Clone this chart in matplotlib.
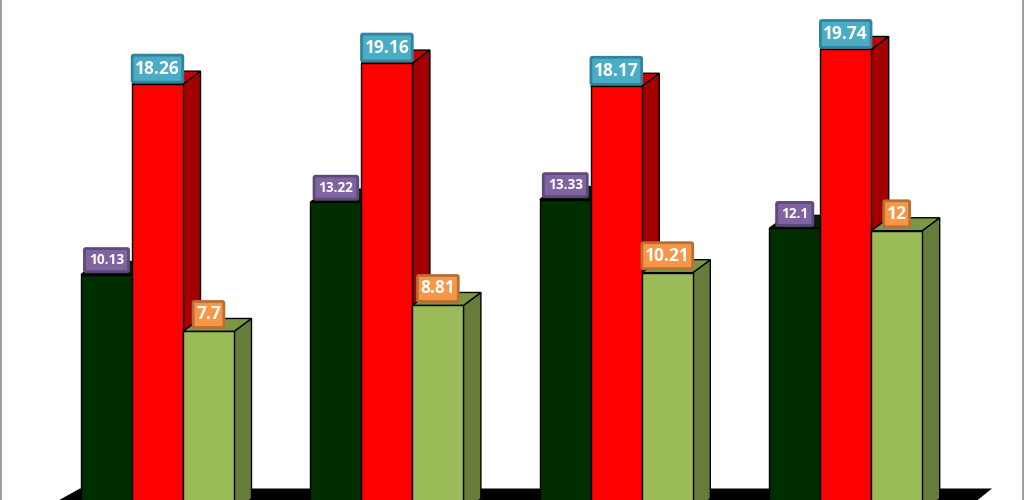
import matplotlib
matplotlib.use("Agg")
import matplotlib.pyplot as plt
from matplotlib.patches import Polygon, Rectangle, FancyBboxPatch
from matplotlib.transforms import IdentityTransform

groups = [0, 1, 2, 3]
series_a = [10.13, 13.22, 13.33, 12.1]
series_b = [18.26, 19.16, 18.17, 19.74]
series_c = [7.7, 8.81, 10.21, 12]
labels_a = ["10.13", "13.22", "13.33", "12.1"]
labels_b = ["18.26", "19.16", "18.17", "19.74"]
labels_c = ["7.7", "8.81", "10.21", "12"]

PX_X = 229.4
PX_Y = 23.42
W, H = 1024, 500
ZERO_PX = 511.8
X0_PX = 157.5
bar_w = 51 / PX_X
dx = 17.5 / PX_X
dy = 13 / PX_Y

plt.rcParams["font.family"] = ["Open Sans", "DejaVu Sans"]
fig = plt.figure(figsize=(10.24, 5.0), dpi=100, facecolor="white")
ax = fig.add_axes([0, 0, 1, 1])
ax.set_xlim(-X0_PX / PX_X, (W - X0_PX) / PX_X)
ax.set_ylim((ZERO_PX - H) / PX_Y, ZERO_PX / PX_Y)
ax.axis("off")

def X(p):
    return (p - X0_PX) / PX_X

# frame (left and right only)
for x in (0.6, 1023.4):
    ax.plot([X(x)] * 2, [-1, 30], color="#8c8c8c", lw=1.2, zorder=0)

# floor
fy = (ZERO_PX - 488.5) / PX_Y
ax.add_patch(Polygon([(X(80), fy), (X(992), fy), (X(963), 0), (X(38), 0)],
                     closed=True, fc="black", ec="none", zorder=1))

def bar3d(xc, v, front, side, top, z):
    l, r = xc - bar_w / 2, xc + bar_w / 2
    edge = dict(ec="black", lw=1.0, joinstyle="miter", zorder=z)
    ax.add_patch(Polygon([(r, 0), (r + dx, dy), (r + dx, v + dy), (r, v)], fc=side, **edge))
    ax.add_patch(Polygon([(l, v), (l + dx, v + dy), (r + dx, v + dy), (r, v)], fc=top, **edge))
    ax.add_patch(Rectangle((l, 0), bar_w, v, fc=front, **edge))

offsets = [-51 / PX_X, 0, 51 / PX_X]
styles = [("#002e00", "#001f00", "#002400"),
          ("#ff0000", "#a30000", "#c90000"),
          ("#9bbb59", "#677b3b", "#7c9647")]
# fill, edge, font size, box height px, gap above bar px, horizontal padding px
label_styles = [("#8064a2", "#5f497a", 9.8, 25, 2, 11),
                ("#4bacc6", "#31849b", 12.5, 29, 1, 8),
                ("#f79646", "#b96f34", 12.5, 28, 3, 8)]
all_vals = [series_a, series_b, series_c]
all_lbls = [labels_a, labels_b, labels_c]

renderer = fig.canvas.get_renderer()
ident = IdentityTransform()
for s, (vals, lbls) in enumerate(zip(all_vals, all_lbls)):
    fc, sc, tc = styles[s]
    lf, le, fs, bh, gap, pad = label_styles[s]
    for g, v, t in zip(groups, vals, lbls):
        xc = g + offsets[s]
        bar3d(xc, v, fc, sc, tc, 3 + s)
        px, py = ax.transData.transform((xc, v))
        cy = py + gap + bh / 2
        txt = ax.text(px, cy, t, transform=ident, ha="center", va="center",
                      fontsize=fs, fontweight="bold", color="white", zorder=11)
        tw = txt.get_window_extent(renderer).width
        bw = tw + pad
        ax.add_patch(FancyBboxPatch((px - bw / 2 + 1, py + gap + 1), bw - 2, bh - 2,
                                    boxstyle="round,pad=0,rounding_size=1.5",
                                    transform=ident, fc=lf, ec=le, lw=2, zorder=10))

fig.savefig("out.png", dpi=100, facecolor="white")
